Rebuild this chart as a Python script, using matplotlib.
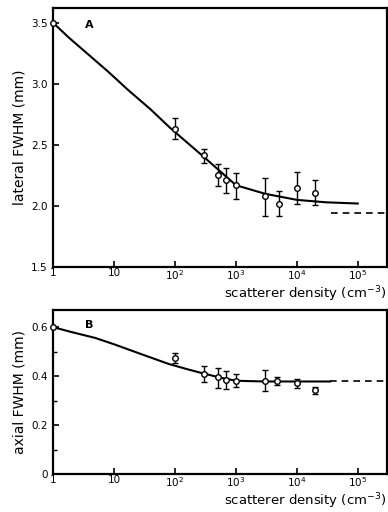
import matplotlib
matplotlib.use("Agg")
import matplotlib.pyplot as plt
from matplotlib.ticker import FixedLocator, NullFormatter

# Panel A: lateral FWHM
a_x = [100, 300, 500, 700, 1000, 3000, 5000, 10000, 20000]
a_y = [2.63, 2.42, 2.25, 2.21, 2.17, 2.08, 2.02, 2.15, 2.11]
a_lo = [2.55, 2.35, 2.16, 2.11, 2.06, 1.92, 1.92, 2.02, 2.01]
a_hi = [2.72, 2.47, 2.34, 2.31, 2.27, 2.23, 2.12, 2.28, 2.21]
a_curve_x = [1, 1.8, 3.6, 8, 17, 40, 83, 300, 1000, 3000, 10000, 30000, 100000]
a_curve_y = [3.5, 3.38, 3.25, 3.10, 2.95, 2.79, 2.64, 2.40, 2.17, 2.10, 2.05, 2.03, 2.02]
a_dash_x = [3.7e4, 3e5]
a_dash_y = [1.94, 1.94]

# Panel B: axial FWHM
b_x = [100, 300, 500, 700, 1000, 3000, 4700, 10000, 20000]
b_y = [0.473, 0.41, 0.395, 0.384, 0.381, 0.378, 0.378, 0.372, 0.342]
b_lo = [0.455, 0.375, 0.352, 0.348, 0.355, 0.338, 0.362, 0.352, 0.325]
b_hi = [0.496, 0.44, 0.432, 0.42, 0.41, 0.425, 0.398, 0.39, 0.356]
b_curve_x = [1, 2, 4.9, 10, 30, 78, 160, 300, 600, 1000, 3000, 35000]
b_curve_y = [0.60, 0.58, 0.556, 0.53, 0.487, 0.45, 0.428, 0.41, 0.392, 0.381, 0.378, 0.378]
b_dash_x = [35000, 3e5]
b_dash_y = [0.378, 0.378]

xticks = [1, 10, 100, 1000, 10000, 100000]
xlabels = ["1", "10", "10$^2$", "10$^3$", "10$^4$", "10$^5$"]

plt.rcParams["font.family"] = "DejaVu Sans"

fig = plt.figure(figsize=(3.88, 5.12), dpi=100)
axA = fig.add_axes([0.137, 0.4785, 0.86, 0.5055])
axB = fig.add_axes([0.137, 0.0742, 0.86, 0.3203])


def panel(ax, x, y, lo, hi, cx, cy, dx, dy, start):
    ax.plot(cx, cy, color="black", lw=1.5, zorder=2)
    ax.plot(dx, dy, color="black", lw=1.2, ls=(0, (4, 3)), clip_on=False)
    yerr = [[v - l for v, l in zip(y, lo)], [h - v for v, h in zip(y, hi)]]
    ax.errorbar(x, y, yerr=yerr, fmt="o", ms=4, mfc="white", mec="black",
                mew=1.0, ecolor="black", elinewidth=1.0, capsize=2, zorder=3)
    ax.plot([1], [start], "o", ms=4, mfc="white", mec="black", mew=1.0,
            clip_on=False, zorder=4)
    ax.set_xscale("log")
    ax.set_xlim(1, 3e5)
    ax.set_xticks(xticks)
    ax.set_xticklabels(xlabels)
    ax.xaxis.set_minor_locator(FixedLocator([]))
    ax.tick_params(direction="in", length=4, width=1.2, labelsize=7.5)
    ax.tick_params(axis="x", pad=1)
    ax.tick_params(axis="y", pad=4)
    ax.tick_params(which="minor", direction="in", length=3, width=1.0)
    for s in ax.spines.values():
        s.set_linewidth(1.6)


panel(axA, a_x, a_y, a_lo, a_hi, a_curve_x, a_curve_y, a_dash_x, a_dash_y, 3.5)
axA.set_ylim(1.5, 3.62)
axA.set_yticks([1.5, 2.0, 2.5, 3.0, 3.5])
axA.set_yticklabels(["1.5", "2.0", "2.5", "3.0", "3.5"])
axA.set_ylabel("lateral FWHM (mm)", fontsize=10, labelpad=3)
axA.text(3.3, 3.48, "A", fontsize=8, fontweight="bold", va="center")
axA.annotate("scatterer density (cm$^{-3}$)", xy=(1.0, 0), xycoords="axes fraction",
             xytext=(0, -12.5), textcoords="offset points",
             ha="right", va="top", fontsize=9.5)

panel(axB, b_x, b_y, b_lo, b_hi, b_curve_x, b_curve_y, b_dash_x, b_dash_y, 0.6)
axB.set_ylim(0, 0.67)
axB.set_yticks([0, 0.2, 0.4, 0.6])
axB.set_yticklabels(["0", "0.2", "0.4", "0.6"])
axB.yaxis.set_minor_locator(FixedLocator([0.1, 0.3, 0.5]))
axB.yaxis.set_minor_formatter(NullFormatter())
axB.set_ylabel("axial FWHM (mm)", fontsize=10, labelpad=3)
axB.text(3.3, 0.61, "B", fontsize=8, fontweight="bold", va="center")
axB.annotate("scatterer density (cm$^{-3}$)", xy=(1.0, 0), xycoords="axes fraction",
             xytext=(0, -12.5), textcoords="offset points",
             ha="right", va="top", fontsize=9.5)

fig.savefig("out.png", dpi=100)
